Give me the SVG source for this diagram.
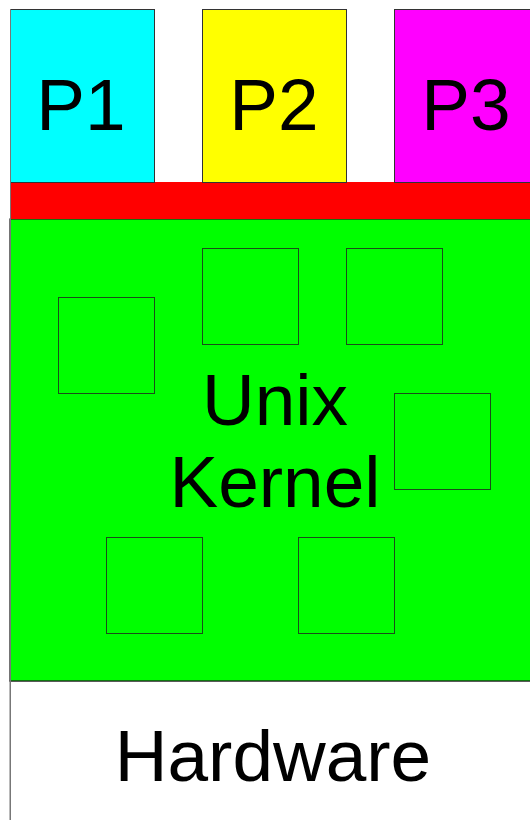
<svg xmlns="http://www.w3.org/2000/svg" width="530" height="820" viewBox="0 0 530 820">
<style>
.t{font-family:"Liberation Sans",Arial,sans-serif;font-size:73px;fill:#000;text-anchor:middle}
.b{stroke:#333;stroke-width:1}
.sq{fill:none;stroke:#1a4d1a;stroke-width:1}
</style>
<rect width="530" height="820" fill="#fff"/>
<g id="hardware">
<rect x="10" y="681" width="530" height="150" fill="#fff" stroke="#777" stroke-width="1"/>
<text class="t" x="273" y="781">Hardware</text>
</g>
<g id="kernel">
<rect x="10" y="219" width="530" height="462" fill="#00ff00" stroke="#1a1a1a" stroke-width="1.2"/>
<rect class="sq" x="58.5" y="297.5" width="96" height="96"/>
<rect class="sq" x="202.5" y="248.5" width="96" height="96"/>
<rect class="sq" x="346.5" y="248.5" width="96" height="96"/>
<rect class="sq" x="394.5" y="393.5" width="96" height="96"/>
<rect class="sq" x="106.5" y="537.5" width="96" height="96"/>
<rect class="sq" x="298.5" y="537.5" width="96" height="96"/>
<text class="t" x="275" y="425">Unix</text>
<text class="t" x="275" y="507">Kernel</text>
</g>
<g id="syscall">
<rect x="10" y="182" width="530" height="37" fill="#ff0000"/>
</g>
<g id="p1">
<rect class="b" x="10.5" y="9.5" width="144" height="173" fill="#00ffff"/>
<text class="t" x="81" y="130">P1</text>
</g>
<g id="p2">
<rect class="b" x="202.5" y="9.5" width="144" height="173" fill="#ffff00"/>
<text class="t" x="274" y="130">P2</text>
</g>
<g id="p3">
<rect class="b" x="394.5" y="9.5" width="144" height="173" fill="#ff00ff"/>
<text class="t" x="466" y="130">P3</text>
</g>
<g id="connectors">
<line x1="10.5" y1="9" x2="10.5" y2="820" stroke="#777" stroke-width="1"/>
</g>
</svg>
